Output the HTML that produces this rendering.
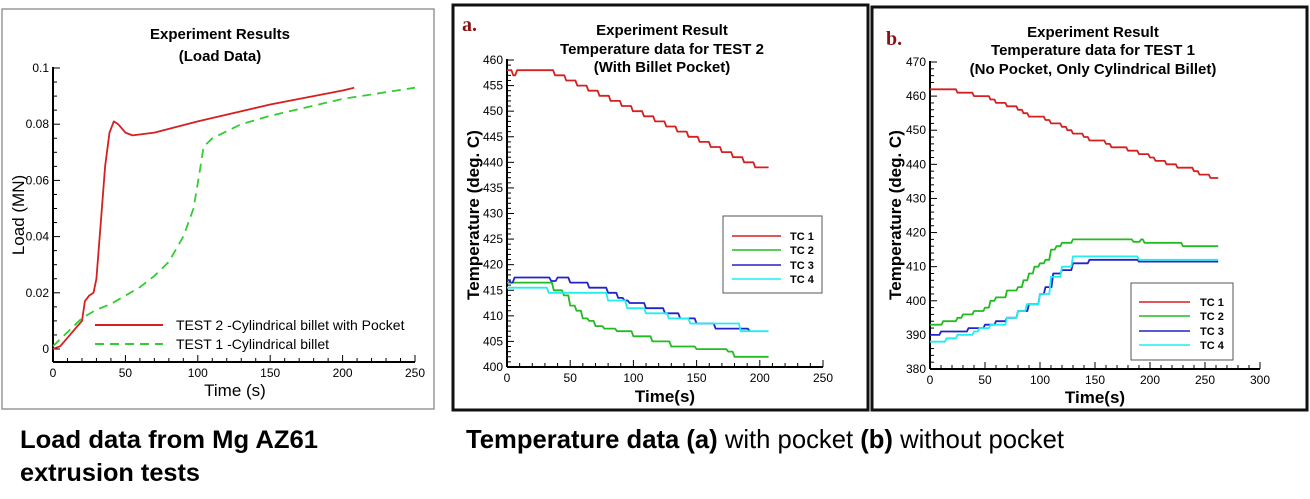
<!DOCTYPE html>
<html><head><meta charset="utf-8"><style>
html,body{margin:0;padding:0;background:#fff;width:1310px;height:499px;overflow:hidden}
svg text{font-family:"Liberation Sans",Arial,sans-serif}
</style></head><body>
<svg id="s" width="1310" height="499" viewBox="0 0 1310 499" xmlns="http://www.w3.org/2000/svg">
<rect x="2" y="9" width="432" height="400" fill="none" stroke="#999" stroke-width="1.5"/>
<rect x="453" y="5" width="415" height="405" fill="none" stroke="#111" stroke-width="3"/>
<rect x="872" y="7" width="435" height="403" fill="none" stroke="#111" stroke-width="3"/>
<g font-weight="bold" font-size="15" text-anchor="middle" fill="#000">
<text x="220" y="39">Experiment Results</text>
<text x="220" y="61">(Load Data)</text>
<text x="662" y="35">Experiment Result</text>
<text x="662" y="54">Temperature data for TEST 2</text>
<text x="662" y="72">(With Billet Pocket)</text>
<text x="1093" y="37">Experiment Result</text>
<text x="1093" y="55">Temperature data for TEST 1</text>
<text x="1093" y="74">(No Pocket, Only Cylindrical Billet)</text>
</g>
<text x="462" y="31" font-weight="bold" font-size="20" fill="#8b1010" style="font-family:'Liberation Serif',serif">a.</text>
<text x="886" y="45" font-weight="bold" font-size="20" fill="#8b1010" style="font-family:'Liberation Serif',serif">b.</text>
<text x="235" y="396" font-size="17" text-anchor="middle">Time (s)</text>
<text transform="translate(24,215) rotate(-90)" font-size="17" text-anchor="middle">Load (MN)</text>
<text x="665" y="402" font-size="17" font-weight="bold" text-anchor="middle">Time(s)</text>
<text transform="translate(479,215) rotate(-90)" font-size="17" font-weight="bold" text-anchor="middle">Temperature (deg. C)</text>
<text x="1095" y="403" font-size="17" font-weight="bold" text-anchor="middle">Time(s)</text>
<text transform="translate(901,215) rotate(-90)" font-size="17" font-weight="bold" text-anchor="middle">Temperature (deg. C)</text>
<g id="g"></g>
<line x1="95" y1="325" x2="163" y2="325" stroke="#d42020" stroke-width="2"/>
<line x1="95" y1="344" x2="163" y2="344" stroke="#33cc33" stroke-width="2" stroke-dasharray="9,6"/>
<text x="176" y="330" font-size="14">TEST 2 -Cylindrical billet with Pocket</text>
<text x="176" y="349" font-size="14">TEST 1 -Cylindrical billet</text>
<rect x="723" y="216" width="99" height="77" fill="#fff" stroke="#555" stroke-width="1"/>
<rect x="1131" y="283" width="102" height="77" fill="#fff" stroke="#555" stroke-width="1"/>
<g font-size="11" font-weight="bold">
<line x1="732" y1="236" x2="781" y2="236" stroke="#d42020" stroke-width="1.5"/><text x="790" y="240">TC 1</text>
<line x1="732" y1="250" x2="781" y2="250" stroke="#22bb22" stroke-width="1.5"/><text x="790" y="254">TC 2</text>
<line x1="732" y1="265" x2="781" y2="265" stroke="#2222cc" stroke-width="1.5"/><text x="790" y="269">TC 3</text>
<line x1="732" y1="279" x2="781" y2="279" stroke="#22eeee" stroke-width="1.5"/><text x="790" y="283">TC 4</text>
<line x1="1139" y1="302" x2="1190" y2="302" stroke="#d42020" stroke-width="1.5"/><text x="1200" y="306">TC 1</text>
<line x1="1139" y1="316" x2="1190" y2="316" stroke="#22bb22" stroke-width="1.5"/><text x="1200" y="320">TC 2</text>
<line x1="1139" y1="331" x2="1190" y2="331" stroke="#2222cc" stroke-width="1.5"/><text x="1200" y="335">TC 3</text>
<line x1="1139" y1="345" x2="1190" y2="345" stroke="#22eeee" stroke-width="1.5"/><text x="1200" y="349">TC 4</text>
</g>
<text x="20" y="448" font-size="25" font-weight="bold" textLength="298" lengthAdjust="spacingAndGlyphs">Load data from Mg AZ61</text>
<text x="20" y="481" font-size="25" font-weight="bold" textLength="180" lengthAdjust="spacingAndGlyphs">extrusion tests</text>
<text x="466" y="448" font-size="26" textLength="598" lengthAdjust="spacingAndGlyphs"><tspan font-weight="bold">Temperature data (a)</tspan> with pocket <tspan font-weight="bold">(b)</tspan> without pocket</text>
</svg>
<script>
var g=document.getElementById('g'),NS='http://www.w3.org/2000/svg';
function el(n,a,t){var e=document.createElementNS(NS,n);for(var k in a)e.setAttribute(k,a[k]);if(t!==undefined)e.textContent=t;g.appendChild(e);return e;}
function axes(o){
 var X=function(v){return o.x0+(v-o.xa)/(o.xb-o.xa)*(o.x1-o.x0)},Y=function(v){return o.y0+(o.ya-v)/(o.ya-o.yb)*(o.y1-o.y0)};
 el('line',{x1:o.x0,y1:o.ay,x2:o.x1,y2:o.ay,stroke:'#000','stroke-width':2});
 el('line',{x1:o.x0,y1:o.ay,x2:o.x0,y2:o.y0-1,stroke:'#000','stroke-width':2});
 for(var v=o.xa;v<=o.xb+1e-9;v+=o.xm){var x=X(v);var maj=Math.abs(Math.round(v/o.xM)*o.xM-v)<1e-6;
  el('line',{x1:x,y1:o.ay,x2:x,y2:o.ay-(maj?7:4),stroke:'#000','stroke-width':1});
  if(maj)el('text',{x:x,y:o.ay+15,'font-size':12,'text-anchor':'middle'},String(Math.round(v)));}
 for(var v=o.yb;v<=o.ya+1e-9;v+=o.ym){var y=Y(v);var maj=Math.abs(Math.round(v/o.yM)*o.yM-v)<1e-6;
  if(y>o.ay+3)continue;
  el('line',{x1:o.x0,y1:y,x2:o.x0+(maj?7:4),y2:y,stroke:'#000','stroke-width':1});
  if(maj)el('text',{x:o.x0-4,y:y+4,'font-size':12,'text-anchor':'end'},o.fmt(v));}
 o.X=X;o.Y=Y;return o;}
function line(o,pts,c,step,dash){var s='';for(var i=0;i<pts.length;i++){var p=pts[i];
 if(step&&i>0){var q=pts[i-1];s+=o.X(p[0]-1.5).toFixed(1)+','+o.Y(q[1]).toFixed(1)+' ';}
 s+=o.X(p[0]).toFixed(1)+','+o.Y(p[1]).toFixed(1)+' ';}
 var a={points:s,fill:'none',stroke:c,'stroke-width':1.8,'stroke-linejoin':'round'};if(dash)a['stroke-dasharray']=dash;el('polyline',a);}
var A=axes({x0:53,x1:415,xa:0,xb:250,xm:10,xM:50,y0:68,y1:349,ya:0.1,yb:0,ym:0.005,yM:0.02,ay:362,fmt:function(v){return v<1e-9?'0':(+v.toFixed(2)).toString()}});
line(A,[[0,0],[5,0.001],[10,0.004],[15,0.007],[20,0.01],[22,0.017],[25,0.019],[28,0.02],[30,0.025],[33,0.045],[36,0.065],[39,0.077],[42,0.081],[45,0.08],[50,0.077],[55,0.076],[70,0.077],[100,0.081],[150,0.087],[200,0.092],[208,0.093]],'#d42020');
line(A,[[0,0.001],[10,0.006],[20,0.011],[30,0.014],[40,0.016],[50,0.019],[60,0.022],[70,0.026],[80,0.031],[90,0.04],[97,0.05],[101,0.062],[104,0.072],[110,0.075],[130,0.08],[150,0.083],[200,0.089],[250,0.093]],'#33cc33',false,'9,6');
var B=axes({x0:507,x1:823,xa:0,xb:250,xm:10,xM:50,y0:60,y1:367,ya:460,yb:400,ym:1,yM:5,ay:367,fmt:function(v){return String(Math.round(v))}});
var t1=[[0,458],[3,458],[5,457],[8,458],[33,458]];for(var t=38,T=457;t<=205;t+=8.8,T-=1)t1.push([t,T]);t1.push([207,439]);
line(B,t1,'#d42020',true);
line(B,[[0,416.5],[30,416.5],[37,415],[45,414],[50,412],[55,411],[60,409.5],[65,409],[70,408],[77,407.5],[87,407],[100,406],[115,405],[130,404],[150,403.5],[175,403],[180,402],[207,402]],'#22bb22',true);
line(B,[[0,417],[3,416.5],[6,417.5],[30,417.5],[35,416.8],[40,417.5],[48,417.5],[50,416.5],[60,416.5],[65,415.5],[75,415.5],[80,414.5],[88,413.5],[93,413],[97,412.5],[105,412.5],[110,411.5],[120,411.5],[125,410.5],[133,410.5],[137,409.5],[145,409.5],[150,408.5],[160,408.5],[165,407.5],[190,407.5],[192,407]],'#2222cc',true);
line(B,[[0,415.5],[28,415.5],[33,414.5],[75,414.5],[80,413],[90,413],[95,411.5],[105,411.5],[110,410.5],[123,410.5],[128,409.5],[140,409.5],[145,408.5],[180,408.5],[185,407],[207,407]],'#22eeee',true);
var C=axes({x0:930,x1:1260,xa:0,xb:300,xm:10,xM:50,y0:62,y1:369,ya:470,yb:380,ym:2,yM:10,ay:369,fmt:function(v){return String(Math.round(v))}});
line(C,[[0,462],[20,462],[25,461],[35,461],[40,460],[50,460],[55,459],[60,458],[70,457],[80,456],[85,455],[90,454],[100,454],[105,453],[110,452],[115,452],[120,451],[125,450],[130,449],[135,449],[140,448],[145,447],[150,447],[160,446],[165,445],[175,445],[180,444],[185,444],[190,443],[200,442],[205,441],[215,440],[225,439],[230,439],[240,438],[245,437],[255,436],[262,436]],'#d42020',true);
line(C,[[0,393],[10,393],[12,394],[20,394],[25,395],[30,396],[35,396],[40,397],[45,397],[50,398],[55,400],[60,401],[65,401],[70,403],[75,403],[80,404],[85,406],[90,408],[95,410],[100,411],[105,412],[110,415],[115,416],[120,417],[128,417],[130,418],[180,418],[185,417.3],[190,417.3],[192,418],[195,417],[225,417],[230,416],[262,416]],'#22bb22',true);
line(C,[[0,390],[5,390],[10,391],[30,391],[35,392],[45,392],[50,393],[55,393],[60,394],[70,395],[80,397],[90,399],[100,402],[105,404],[112,408],[120,409],[130,411],[140,411],[145,412],[185,412],[190,411.5],[262,411.5]],'#2222cc',true);
line(C,[[0,388],[10,388],[15,389],[25,390],[35,390],[40,391],[45,392],[50,392],[55,393],[60,393],[70,395],[80,397],[88,399],[100,402],[110,407],[120,410],[130,413],[185,413],[190,412],[262,412]],'#22eeee',true);
</script>
</body></html>
